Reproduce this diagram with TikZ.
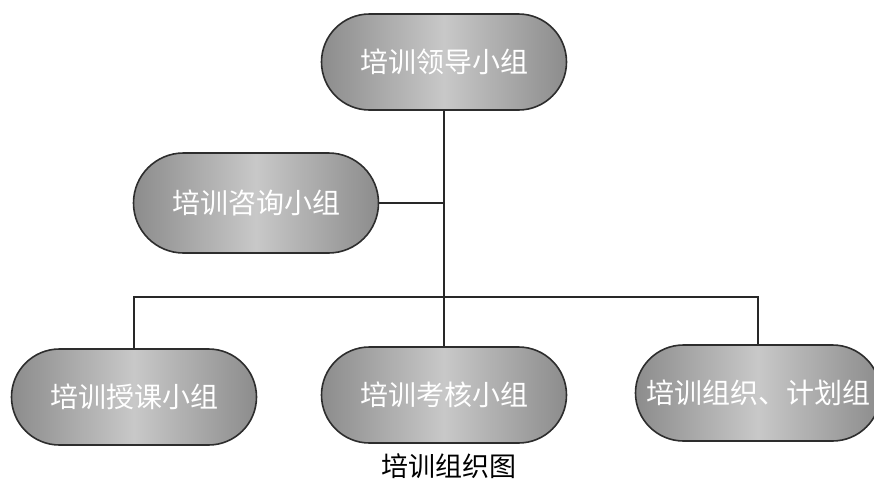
\documentclass[tikz,border=0pt]{standalone}
\usepackage{fontspec}
\newfontfamily\cjk{Noto Sans CJK SC}
\usetikzlibrary{shapes.misc}
\definecolor{edgegray}{RGB}{140,140,140}
\definecolor{midgray}{RGB}{200,200,200}
\definecolor{bordergray}{RGB}{45,45,45}
\definecolor{linegray}{RGB}{40,40,40}
\tikzset{
  group/.style={rounded rectangle, draw=bordergray, line width=1.6pt,
    left color=edgegray, right color=edgegray, middle color=midgray,
    minimum width=245pt, minimum height=96pt, inner sep=0pt,
    text=white, font=\cjk\fontsize{28pt}{31pt}\selectfont},
  link/.style={draw=linegray, line width=1.4pt},
  caption/.style={inner sep=0pt, text=black, font=\cjk\fontsize{27pt}{30pt}\selectfont}
}
\begin{document}
\begin{tikzpicture}[x=1pt,y=-1pt]
\path[use as bounding box] (0,0) rectangle (874,482);
\node[group] (lead) at (444,62) {培训领导小组};
\node[group, minimum height=100pt] (consult) at (256,203) {培训咨询小组};
\node[group] (teach) at (134,397) {培训授课小组};
\node[group] (exam) at (444,395) {培训考核小组};
\node[group] (plan) at (758,393) {培训组织、计划组};
\coordinate (bus) at (444,297);
\draw[link] (lead.south) -- (exam.north);
\draw[link] (consult.east) -- (consult.east -| lead.south);
\draw[link] (teach.north) |- (bus) -| (plan.north);
\node[caption] (cap) at (449,466) {培训组织图};
\end{tikzpicture}
\end{document}
